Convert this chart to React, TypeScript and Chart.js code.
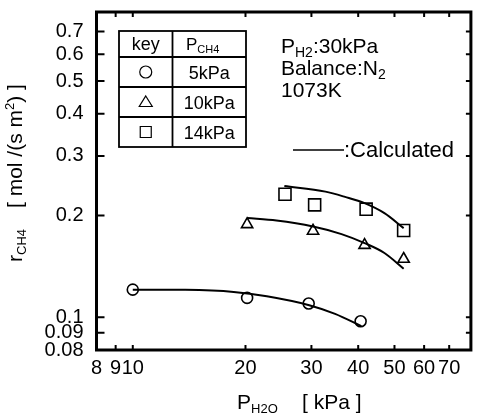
import React, { useEffect, useRef } from 'react';
import { Chart, registerables } from 'chart.js';

Chart.register(...registerables);

const FONT = '"Liberation Sans", Arial, Helvetica, sans-serif';

// Axis tick values
const xTickValues = [8, 9, 10, 20, 30, 40, 50, 60, 70];
const yTickValues = [0.08, 0.09, 0.1, 0.2, 0.3, 0.4, 0.5, 0.6, 0.7];

// Measured points (P_H2O in kPa, r_CH4 in mol/(s m2))
const circleX = [10.0, 20.2, 29.5, 40.6];
const circleY = [0.1207, 0.1141, 0.1098, 0.0973];
const triangleX = [20.2, 30.3, 41.6, 52.9];
const triangleY = [0.1882, 0.18, 0.1635, 0.1487];
const squareX = [25.5, 30.6, 42.0, 52.9];
const squareY = [0.2312, 0.215, 0.2088, 0.1806];

// Calculated curves
const calcCircleX = [10.0, 13.8, 18.6, 22.8, 29.6, 34.7, 40.8];
const calcCircleY = [0.1207, 0.1205, 0.1188, 0.1153, 0.1085, 0.1023, 0.0941];
const calcTriangleX = [20.2, 24.2, 30.3, 36.1, 41.6, 47.0, 52.9];
const calcTriangleY = [0.1965, 0.1932, 0.1855, 0.1762, 0.1657, 0.1549, 0.1392];
const calcSquareX = [25.4, 32.7, 36.9, 41.6, 47.0, 52.9];
const calcSquareY = [0.2446, 0.2353, 0.227, 0.2175, 0.2032, 0.1835];

// Key table
const keyLabels = ['5kPa', '10kPa', '14kPa'];
const keyStyles = ['circle', 'triangle', 'rect'];

const pts = (xs: number[], ys: number[]) => xs.map((x, i) => ({ x, y: ys[i] }));

type Run = { t: string; s: number; dy?: number };

function drawRuns(ctx: CanvasRenderingContext2D, x: number, y: number, runs: Run[]) {
  let cx = x;
  for (const r of runs) {
    ctx.font = `${r.s}px ${FONT}`;
    ctx.fillText(r.t, cx, y + (r.dy || 0));
    cx += ctx.measureText(r.t).width;
  }
  return cx;
}

function marker(ctx: CanvasRenderingContext2D, style: string, x: number, y: number) {
  ctx.beginPath();
  if (style === 'circle') {
    ctx.arc(x, y, 6, 0, Math.PI * 2);
  } else if (style === 'triangle') {
    ctx.moveTo(x, y - 6);
    ctx.lineTo(x + 6.5, y + 4.5);
    ctx.lineTo(x - 6.5, y + 4.5);
    ctx.closePath();
  } else {
    ctx.rect(x - 5.5, y - 5.5, 11, 11);
  }
  ctx.stroke();
}

const zeroPad = (s: any) => {
  s.paddingTop = 0;
  s.paddingBottom = 0;
  s.paddingLeft = 0;
  s.paddingRight = 0;
};

const decorPlugin = {
  id: 'decor',
  afterDraw(chart: any) {
    const ctx: CanvasRenderingContext2D = chart.ctx;
    const { left, right, top, bottom } = chart.chartArea;
    const xs = chart.scales.x;
    const ys = chart.scales.y;
    ctx.save();
    ctx.strokeStyle = '#000';
    ctx.fillStyle = '#000';
    // inward ticks
    ctx.lineWidth = 2;
    ctx.beginPath();
    for (const v of xTickValues) {
      const px = xs.getPixelForValue(v);
      if (px <= left + 2 || px >= right - 2) continue;
      ctx.moveTo(px, bottom);
      ctx.lineTo(px, bottom - 5);
      ctx.moveTo(px, top);
      ctx.lineTo(px, top + 5);
    }
    for (const v of yTickValues) {
      const py = ys.getPixelForValue(v);
      if (py <= top + 2 || py >= bottom - 2) continue;
      ctx.moveTo(left, py);
      ctx.lineTo(left + 8, py);
      ctx.moveTo(right, py);
      ctx.lineTo(right - 5, py);
    }
    ctx.stroke();
    // frame
    ctx.lineWidth = 3;
    ctx.strokeRect(left, top, right - left, bottom - top);

    ctx.textBaseline = 'alphabetic';
    ctx.textAlign = 'left';

    // x-axis title
    drawRuns(ctx, 237, 409, [{ t: 'P', s: 21 }, { t: 'H2O', s: 13, dy: 4 }]);
    drawRuns(ctx, 302, 409, [{ t: '[ kPa ]', s: 21 }]);

    // y-axis title
    ctx.save();
    ctx.translate(22, 262);
    ctx.rotate(-Math.PI / 2);
    drawRuns(ctx, 0, 0, [{ t: 'r', s: 21 }, { t: 'CH4', s: 13, dy: 4 }]);
    drawRuns(ctx, 54, 0, [
      { t: '[ mol /(s m', s: 21 },
      { t: '2', s: 13, dy: -8 },
      { t: ') ]', s: 21 },
    ]);
    ctx.restore();

    // conditions
    drawRuns(ctx, 281, 53, [{ t: 'P', s: 21 }, { t: 'H2', s: 14, dy: 4 }, { t: ':30kPa', s: 21 }]);
    drawRuns(ctx, 281, 75, [{ t: 'Balance:N', s: 21 }, { t: '2', s: 14, dy: 4 }]);
    drawRuns(ctx, 281, 97, [{ t: '1073K', s: 21 }]);

    // calculated legend
    ctx.lineWidth = 1.5;
    ctx.beginPath();
    ctx.moveTo(293, 150);
    ctx.lineTo(344, 150);
    ctx.stroke();
    drawRuns(ctx, 344, 157, [{ t: ':Calculated', s: 22 }]);

    // key table
    const tL = 119, tR = 246, tT = 31, colX = 172.5;
    const rows = [31, 57, 87, 117, 147];
    ctx.lineWidth = 1.8;
    ctx.strokeRect(tL, tT, tR - tL, rows[4] - tT);
    ctx.beginPath();
    ctx.moveTo(colX, tT);
    ctx.lineTo(colX, rows[4]);
    for (let i = 1; i < 4; i++) {
      ctx.moveTo(tL, rows[i]);
      ctx.lineTo(tR, rows[i]);
    }
    ctx.stroke();

    const c1 = (tL + colX) / 2;
    const c2 = (colX + tR) / 2;
    ctx.textAlign = 'center';
    ctx.font = `18px ${FONT}`;
    ctx.fillText('key', c1, 50);
    ctx.textAlign = 'left';
    drawRuns(ctx, 186, 50, [{ t: 'P', s: 17 }, { t: 'CH4', s: 11, dy: 3 }]);
    ctx.textAlign = 'center';
    ctx.font = `18px ${FONT}`;
    ctx.lineWidth = 1.2;
    for (let i = 0; i < 3; i++) {
      const cy = (rows[i + 1] + rows[i + 2]) / 2;
      ctx.fillText(keyLabels[i], c2, cy + 6.5);
      marker(ctx, keyStyles[i], c1, cy);
    }
    ctx.restore();
  },
};

export default function App() {
  const ref = useRef<HTMLCanvasElement | null>(null);

  useEffect(() => {
    const canvas = ref.current;
    if (!canvas) return;
    const markerDs = (xs: number[], ys: number[], style: string, r: number) => ({
      data: pts(xs, ys),
      showLine: false,
      pointStyle: style,
      pointRadius: r,
      pointBorderColor: '#000',
      pointBackgroundColor: 'rgba(0,0,0,0)',
      pointBorderWidth: 1.6,
    });
    const lineDs = (xs: number[], ys: number[]) => ({
      data: pts(xs, ys),
      showLine: true,
      pointRadius: 0,
      borderColor: '#000',
      borderWidth: 2,
      cubicInterpolationMode: 'monotone',
      fill: false,
    });
    const tickFont = { size: 20, family: FONT };
    const chart = new Chart(canvas, {
      type: 'scatter',
      data: {
        datasets: [
          lineDs(calcCircleX, calcCircleY),
          lineDs(calcTriangleX, calcTriangleY),
          lineDs(calcSquareX, calcSquareY),
          markerDs(circleX, circleY, 'circle', 5.5),
          markerDs(triangleX, triangleY, 'triangle', 6.5),
          markerDs(squareX, squareY, 'rect', 8.5),
        ] as any,
      },
      options: {
        responsive: false,
        animation: false,
        devicePixelRatio: 1,
        layout: { padding: { top: 12, right: 2.5, left: 0, bottom: 0 } },
        plugins: { legend: { display: false }, tooltip: { enabled: false } },
        scales: {
          x: {
            type: 'logarithmic',
            min: 8,
            max: 80,
            grid: { display: false, drawTicks: false },
            border: { display: false },
            afterBuildTicks: (s: any) => {
              s.ticks = xTickValues.map((v) => ({ value: v }));
            },
            afterFit: (s: any) => {
              s.height = 65;
              zeroPad(s);
            },
            ticks: {
              autoSkip: false,
              maxRotation: 0,
              minRotation: 0,
              padding: 6,
              color: '#000',
              font: tickFont,
              callback: (v: any) => String(v),
            },
          },
          y: {
            type: 'logarithmic',
            min: 0.08,
            max: 0.8,
            grid: { display: false, drawTicks: false },
            border: { display: false },
            afterBuildTicks: (s: any) => {
              s.ticks = yTickValues.map((v) => ({ value: v }));
            },
            afterFit: (s: any) => {
              s.width = 96.5;
              zeroPad(s);
            },
            ticks: {
              autoSkip: false,
              padding: 13,
              color: '#000',
              font: tickFont,
              callback: (v: any) => String(v),
            },
          },
        },
      } as any,
      plugins: [decorPlugin],
    });
    return () => chart.destroy();
  }, []);

  return (
    <div style={{ position: 'absolute', left: 0, top: 0, width: 481, height: 415, background: '#fff' }}>
      <canvas ref={ref} width={481} height={415} style={{ width: 481, height: 415, display: 'block' }} />
    </div>
  );
}
